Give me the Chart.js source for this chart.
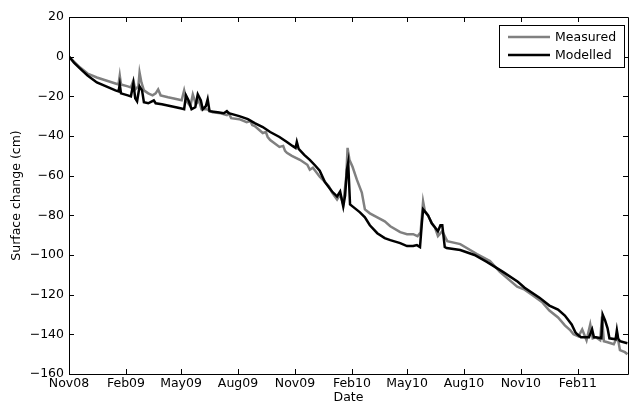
<!DOCTYPE html>
<html>
<head>
<meta charset="utf-8">
<script src="https://cdn.jsdelivr.net/npm/chart.js@4.4.1/dist/chart.umd.min.js"></script>
<style>
  html, body { margin: 0; padding: 0; background: #ffffff; }
  #wrap { width: 633px; height: 410px; position: relative; }
</style>
</head>
<body>
<div id="wrap"><canvas id="c" width="633" height="410"></canvas></div>
<script>
// Days since 1 Nov 2008
const tickDays   = [0, 92, 181, 273, 365, 457, 546, 638, 730, 822];
const tickLabels = ['Nov08','Feb09','May09','Aug09','Nov09','Feb10','May10','Aug10','Nov10','Feb11'];
const yTicks = [20, 0, -20, -40, -60, -80, -100, -120, -140, -160];

const measuredDays = [0,8,18,30,45,60,75,80,82,84,95,100,104,107,112,114,117,121,128,135,140,144,148,160,175,182,186,190,196,200,205,210,214,222,232,245,255,258,262,275,287,293,296,300,313,318,321,325,340,346,349,352,360,373,385,389,394,405,413,420,425,433,438,443,448,450,453,458,465,473,478,486,498,510,519,535,546,556,563,568,572,575,580,586,591,596,603,611,632,659,680,696,724,736,750,765,776,790,801,810,815,823,829,836,842,846,851,858,861,864,870,880,886,890,898,902];
const measuredValues = [0,-2.5,-5.5,-8.5,-10.5,-12,-13.5,-14,-9.5,-14,-15,-15.5,-12,-16.5,-15,-8,-13,-17,-18.5,-19.5,-18.5,-16.5,-19.5,-20.5,-21.5,-22,-17,-22.5,-25,-19,-24,-22,-26.5,-26.5,-28,-28.5,-29.5,-28.5,-31,-31.5,-33,-32.5,-34.5,-35,-38.5,-38,-40.5,-42,-45.5,-45,-47.5,-48.5,-50,-52,-54.5,-57,-56,-60.5,-63,-65.5,-68.5,-72,-69.5,-74.5,-60,-46,-52,-55.5,-62,-68.5,-77,-79,-81,-83,-85.5,-88.5,-89.5,-89.5,-90.5,-88.5,-73,-78,-80,-84,-86,-90.5,-88,-93,-94.5,-99.5,-103,-108.5,-116,-117.5,-120.5,-124,-128,-131.5,-135.5,-138,-140,-141,-137.5,-143,-135,-142,-141.5,-143,-131,-143.5,-144,-145,-141,-148,-149,-150];

const modelledDays = [0,8,18,30,45,60,75,80,82,84,95,100,104,107,110,114,118,121,128,134,137,140,150,165,180,186,189,193,198,204,208,213,216,221,224,227,240,250,255,258,275,289,300,313,325,340,352,361,366,368,371,380,389,398,405,413,420,425,430,433,438,443,446,449,451,454,462,470,478,486,498,510,519,535,546,556,562,567,570,572,576,580,586,591,596,600,603,607,610,632,655,675,701,725,736,760,776,790,801,812,818,821,827,840,843,845,848,851,860,862,866,870,873,883,885,887,890,902];
const modelledValues = [0,-3,-6,-9.5,-13,-15,-17,-17.5,-14,-18.5,-19.5,-20,-13.5,-21,-22.5,-15,-17,-23,-23.5,-22.5,-22,-23.5,-24,-25,-26,-26.5,-19.5,-22,-26.5,-25.5,-19,-22,-26.5,-25,-21.5,-27.5,-28,-28.5,-27.5,-28.5,-30,-31.5,-33.5,-35.5,-38,-40.5,-43,-45,-46,-43,-46.5,-49.5,-52,-55,-57.5,-63,-66,-68,-69.5,-70.5,-68,-75.5,-70,-57,-53.5,-74.5,-76.5,-78.5,-81,-85,-89,-91.5,-92.5,-94,-95.5,-95.5,-95,-96,-84,-77,-78.5,-80,-84,-86,-88,-85,-85,-96,-96.5,-97.5,-100,-103.5,-108.5,-113.5,-116.5,-121.5,-125.5,-127.5,-130.5,-135,-139,-140,-141.5,-141.5,-139,-137.5,-141.5,-141.5,-142,-130,-133,-137,-142,-142.5,-138,-142,-143.5,-144.5];

const seriesNames = ['Measured', 'Modelled'];
const seriesColors = ['#808080', '#000000'];

const toPts = (xs, ys) => xs.map((x, i) => ({ x: x, y: ys[i] }));
const FONT = "'DejaVu Sans', 'Liberation Sans', Arial, sans-serif";
const FS = 12.5;
const minus = s => String(s).replace('-', '\u2212');

const frame = {
  id: 'frame',
  afterDraw(chart) {
    const { ctx, chartArea: a, scales } = chart;
    const L = 5;
    ctx.save();
    ctx.strokeStyle = '#000';
    ctx.lineWidth = 1;
    ctx.beginPath();
    ctx.rect(Math.round(a.left) + 0.5, Math.round(a.top) + 0.5, Math.round(a.right - a.left), Math.round(a.bottom - a.top));
    ctx.stroke();
    ctx.beginPath();
    scales.x.ticks.forEach(t => {
      const px = Math.round(scales.x.getPixelForValue(t.value)) + 0.5;
      ctx.moveTo(px, a.bottom); ctx.lineTo(px, a.bottom - L);
      ctx.moveTo(px, a.top); ctx.lineTo(px, a.top + L);
    });
    scales.y.ticks.forEach(t => {
      const py = Math.round(scales.y.getPixelForValue(t.value)) + 0.5;
      ctx.moveTo(a.left, py); ctx.lineTo(a.left + L, py);
      ctx.moveTo(a.right, py); ctx.lineTo(a.right - L, py);
    });
    ctx.stroke();
    // legend box
    const bx = 499.5, by = 25.5, bw = 125, bh = 42;
    ctx.fillStyle = '#fff';
    ctx.fillRect(bx, by, bw, bh);
    ctx.strokeRect(bx, by, bw, bh);
    ctx.font = FS + 'px ' + FONT;
    ctx.textBaseline = 'middle';
    ctx.textAlign = 'left';
    const rows = [37, 55];
    chart.data.datasets.forEach((ds, i) => {
      ctx.strokeStyle = ds.borderColor;
      ctx.lineWidth = 2.5;
      ctx.beginPath();
      ctx.moveTo(508, rows[i]); ctx.lineTo(550, rows[i]);
      ctx.stroke();
      ctx.fillStyle = '#000';
      ctx.fillText(ds.label, 555, rows[i] + 0.5);
    });
    ctx.restore();
  }
};

new Chart(document.getElementById('c'), {
  type: 'line',
  data: {
    datasets: [
      { label: seriesNames[0], data: toPts(measuredDays, measuredValues), borderColor: seriesColors[0], borderWidth: 2.5, pointRadius: 0, tension: 0, order: 2 },
      { label: seriesNames[1], data: toPts(modelledDays, modelledValues), borderColor: seriesColors[1], borderWidth: 2.5, pointRadius: 0, tension: 0, order: 1 }
    ]
  },
  options: {
    responsive: false,
    animation: false,
    layout: { padding: { left: 0, right: 5, top: 17, bottom: 0 } },
    plugins: { legend: { display: false }, tooltip: { enabled: false } },
    scales: {
      x: {
        type: 'linear', min: 0, max: 903,
        afterBuildTicks: s => { s.ticks = tickDays.map(v => ({ value: v })); },
        afterFit: s => { s.height = 36; },
        ticks: {
          autoSkip: false, maxRotation: 0, padding: 2, color: '#000',
          font: { family: FONT, size: FS },
          callback: (v) => { const i = tickDays.indexOf(v); return i >= 0 ? tickLabels[i] : ''; }
        },
        grid: { display: false, drawTicks: false },
        border: { display: false },
        title: { display: true, text: 'Date', color: '#000', font: { family: FONT, size: FS }, padding: { top: 0, bottom: 5 } }
      },
      y: {
        min: -160, max: 20,
        afterBuildTicks: s => { s.ticks = yTicks.map(v => ({ value: v })); },
        afterFit: s => { s.width = 69; },
        ticks: {
          autoSkip: false, padding: 5, color: '#000',
          font: { family: FONT, size: FS },
          callback: v => minus(v)
        },
        grid: { display: false, drawTicks: false },
        border: { display: false },
        title: { display: true, text: 'Surface change (cm)', color: '#000', font: { family: FONT, size: FS }, padding: { top: 9, bottom: 0 } }
      }
    }
  },
  plugins: [frame]
});
</script>
</body>
</html>
